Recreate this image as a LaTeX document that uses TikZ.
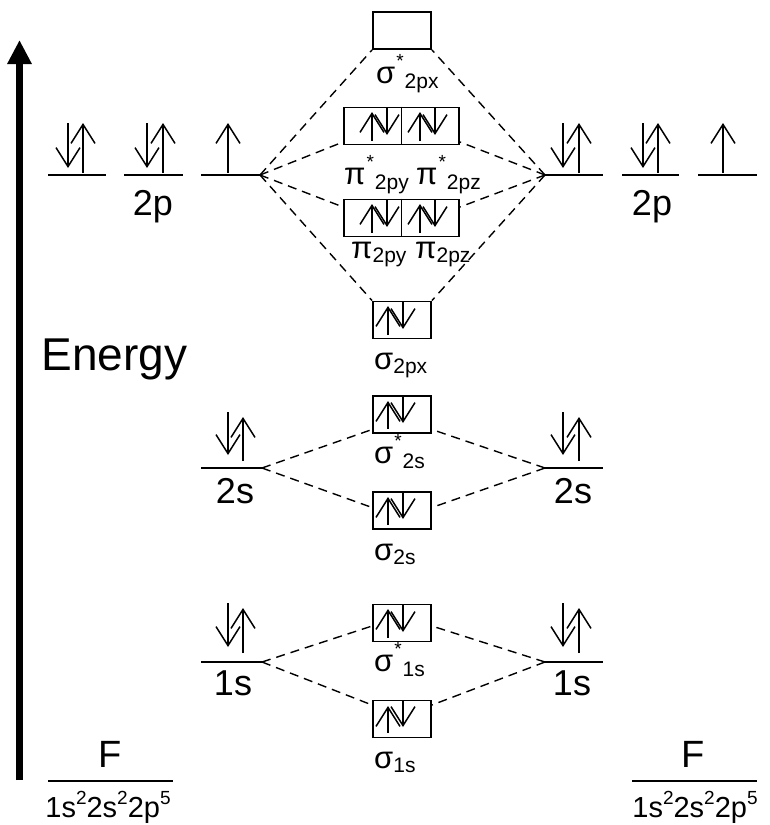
\documentclass[tikz,border=0pt]{standalone}
\usepackage{fontspec}
\setmainfont{Liberation Sans}
\usetikzlibrary{arrows.meta,calc}

\newcommand{\mosub}[2]{#1\raisebox{-4pt}{\fontsize{21}{21}\selectfont #2}}
\newcommand{\mostar}[2]{#1\hspace{1pt}\raisebox{16pt}{\fontsize{19}{19}\selectfont *}\hspace{1pt}\raisebox{-5pt}{\fontsize{21}{21}\selectfont #2}}
\newcommand{\conf}{1s\raisebox{13pt}{\fontsize{19}{19}\selectfont 2}2s\raisebox{13pt}{\fontsize{19}{19}\selectfont 2}2p\raisebox{13pt}{\fontsize{19}{19}\selectfont 5}}
\newcommand{\bpair}[3]{%
  \draw[spin] (#1,#3-4) -- (#1,#2+5);
  \draw[spin] (#1+15,#2) -- (#1+15,#3-10);}

\begin{document}
\begin{tikzpicture}[x=1pt,y=-1pt]
    \useasboundingbox (0,0) rectangle (769,825);
    \tikzstyle{orblev}=[line width=1.9pt]
    \tikzstyle{spin}=[line width=1.5pt,-{Straight Barb[length=19pt,width=24pt]}]
    \tikzstyle{mobox}=[draw,line width=1.9pt,minimum width=58pt,minimum height=37pt,inner sep=0pt]
    \tikzstyle{mlink}=[line width=1.4pt,dash pattern=on 9pt off 6pt]
    \tikzstyle{aolbl}=[anchor=base,inner sep=0pt,font=\fontsize{36}{40}\selectfont]
    \tikzstyle{molbl}=[anchor=base west,inner sep=0pt,font=\fontsize{31}{34}\selectfont]
    \tikzstyle{atlbl}=[anchor=base,inner sep=0pt,font=\fontsize{38}{42}\selectfont]
    \tikzstyle{cflbl}=[anchor=base,inner sep=0pt,font=\fontsize{29}{32}\selectfont]

    %%%%%%%%%%%%%%%%%%%%%%%%%%%%%%%%%%%%%% Axe
    \draw[line width=7.5pt,-{Triangle[length=24pt,width=23pt]}] (19.5,780) -- (19.5,40);
    \node[anchor=base,inner sep=0pt,font=\fontsize{46}{50}\selectfont] (energy) at (114.5,370) {Energy};

    %%%%%%%%%%%%%%%%%%%%%%%%%%%%%%%%%%%%%% F gauche
    \draw[orblev] (48,175) -- (106,175);
    \draw[orblev] (124,175) -- (183,175);
    \draw[orblev] (201,175) -- (260,175) coordinate (p2l);
    \draw[spin] (68,123) -- (68,168);
    \draw[spin] (83,173) -- (83,123);
    \draw[spin] (147,123) -- (147,168);
    \draw[spin] (163,173) -- (163,123);
    \draw[spin] (228,173) -- (228,123);
    \node[aolbl] (l2pl) at (153,215) {2p};

    \draw[orblev] (201,468) -- (262,468) coordinate (s2l);
    \draw[spin] (228,412) -- (228,455);
    \draw[spin] (243,461) -- (243,417);
    \node[aolbl] (l2sl) at (235,503) {2s};

    \draw[orblev] (201,662) -- (262,662) coordinate (s1l);
    \draw[spin] (228,603) -- (228,647);
    \draw[spin] (243,653) -- (243,608);
    \node[aolbl] (l1sl) at (233,695) {1s};

    \node[atlbl] (fl) at (110,767) {F};
    \draw[orblev] (48,781) -- (173,781);
    \node[cflbl] (cfl) at (108,817) {\conf};

    %%%%%%%%%%%%%%%%%%%%%%%%%%%%%%%%%%%%%% F droite
    \draw[orblev] (545,175) coordinate (p2r) -- (603,175);
    \draw[orblev] (622,175) -- (679,175);
    \draw[orblev] (698,175) -- (757,175);
    \draw[spin] (563,123) -- (563,168);
    \draw[spin] (579,173) -- (579,123);
    \draw[spin] (643,123) -- (643,168);
    \draw[spin] (658,173) -- (658,123);
    \draw[spin] (723,173) -- (723,123);
    \node[aolbl] (l2pr) at (652,215) {2p};

    \draw[orblev] (545,468) coordinate (s2r) -- (603,468);
    \draw[spin] (563,412) -- (563,455);
    \draw[spin] (579,461) -- (579,417);
    \node[aolbl] (l2sr) at (573,503) {2s};

    \draw[orblev] (545,662) coordinate (s1r) -- (603,662);
    \draw[spin] (563,603) -- (563,647);
    \draw[spin] (579,653) -- (579,608);
    \node[aolbl] (l1sr) at (572,695) {1s};

    \node[atlbl] (fr) at (693,767) {F};
    \draw[orblev] (632,781) -- (757,781);
    \node[cflbl] (cfr) at (695,817) {\conf};

    %%%%%%%%%%%%%%%%%%%%%%%%%%%%%%%%%%%%%% Orbitales moleculaires
    \node[mobox] (ss2p) at (402,30.5) {};
    \node[mobox,minimum width=115pt] (ps2p) at (401.5,126) {};
    \draw[line width=1.9pt] (ps2p.north) -- (ps2p.south);
    \bpair{372}{107}{145}
    \bpair{420}{107}{145}
    \node[mobox,minimum width=115pt] (p2p) at (401.5,218) {};
    \draw[line width=1.9pt] (p2p.north) -- (p2p.south);
    \bpair{372}{199}{237}
    \bpair{420}{199}{237}
    \node[mobox] (s2p) at (402,320) {};
    \bpair{388}{301}{339}
    \node[mobox] (ss2s) at (402,414.5) {};
    \bpair{388}{396}{433}
    \node[mobox] (s2s) at (402,510.5) {};
    \bpair{388}{492}{529}
    \node[mobox] (ss1s) at (402,623) {};
    \bpair{388}{604}{642}
    \node[mobox] (s1s) at (402,719) {};
    \bpair{388}{701}{737}

    \node[molbl] (lss2p) at (376,83) {\mostar{σ}{2px}};
    \node[molbl] (lps2py) at (344,184) {\mostar{π}{2py}};
    \node[molbl] (lps2pz) at (416,184) {\mostar{π}{2pz}};
    \node[molbl] (lp2py) at (351,258) {\mosub{π}{2py}};
    \node[molbl] (lp2pz) at (415,258) {\mosub{π}{2pz}};
    \node[molbl] (ls2p) at (374,369) {\mosub{σ}{2px}};
    \node[molbl] (lss2s) at (374,463) {\mostar{σ}{2s}};
    \node[molbl] (ls2s) at (374,560) {\mosub{σ}{2s}};
    \node[molbl] (lss1s) at (374,671) {\mostar{σ}{1s}};
    \node[molbl] (ls1s) at (374,768) {\mosub{σ}{1s}};

    %%%%%%%%%%%%%%%%%%%%%%%%%%%%%%%%%%%%%% Correlations
    \draw[mlink] (p2l) -- (ss2p.south west);
    \draw[mlink] (p2l) -- ($(ps2p.west)+(0,16)$);
    \draw[mlink] (p2l) -- ($(p2p.west)+(0,-11)$);
    \draw[mlink] (p2l) -- (s2p.north west);
    \draw[mlink] (p2r) -- (ss2p.south east);
    \draw[mlink] (p2r) -- ($(ps2p.east)+(0,16)$);
    \draw[mlink] (p2r) -- ($(p2p.east)+(0,-11)$);
    \draw[mlink] (p2r) -- (s2p.north east);

    \draw[mlink] (s2l) -- ($(ss2s.west)+(0,15)$);
    \draw[mlink] (s2l) -- ($(s2s.west)+(0,-3)$);
    \draw[mlink] (s2r) -- ($(ss2s.east)+(0,15)$);
    \draw[mlink] (s2r) -- ($(s2s.east)+(0,-3)$);

    \draw[mlink] (s1l) -- ($(ss1s.west)+(0,3)$);
    \draw[mlink] (s1l) -- ($(s1s.west)+(0,-14)$);
    \draw[mlink] (s1r) -- ($(ss1s.east)+(0,3)$);
    \draw[mlink] (s1r) -- ($(s1s.east)+(0,-14)$);
\end{tikzpicture}
\end{document}
